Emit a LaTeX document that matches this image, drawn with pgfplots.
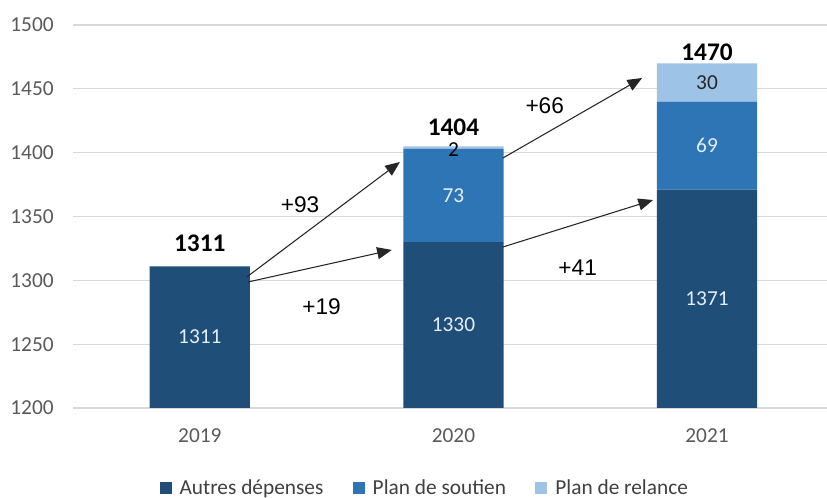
\documentclass[border=0pt]{standalone}
\usepackage{fontspec}
\setmainfont{Carlito}
\newfontfamily\arial{Liberation Sans}
\usepackage{pgfplots}
\pgfplotsset{compat=1.18}
\usetikzlibrary{arrows.meta}

\definecolor{autres}{HTML}{1F4E79}
\definecolor{soutien}{HTML}{2E75B6}
\definecolor{relance}{HTML}{9DC3E6}
\definecolor{gridgray}{HTML}{D9D9D9}
\definecolor{tickgray}{HTML}{595959}
\definecolor{leggray}{HTML}{404040}
\definecolor{inlabel}{HTML}{E4EEF8}

\tikzset{
  inl/.style={font=\fontsize{16}{19}\selectfont},
  tot/.style={font=\fontsize{19}{22}\selectfont\bfseries},
  dlt/.style={font=\arial\fontsize{17}{20}\selectfont},
  evo/.style={black!85, line width=0.8pt, -{Triangle[length=11pt,width=9pt]}},
}

\begin{document}
\begin{tikzpicture}
\useasboundingbox (0,0) rectangle (620.25pt,373.5pt);
\begin{axis}[
    at={(54.75pt,67.5pt)}, anchor=south west,
    scale only axis, width=565.5pt, height=287.25pt,
    ybar stacked, bar width=0.395,
    xmin=-0.5, xmax=2.473, ymin=1200, ymax=1500,
    ytick={1200,1250,...,1500},
    xtick={0,1,2}, xticklabels={2019,2020,2021},
    ymajorgrids, grid style={draw=gridgray, line width=0.9pt},
    axis line style={draw=none}, major tick length=0pt,
    tick label style={font=\fontsize{16}{19}\selectfont, text=tickgray},
    /pgf/number format/assume math mode=true,
    /pgf/number format/1000 sep={},
    yticklabel style={xshift=-11pt},
    xticklabel style={yshift=-12pt},
    legend style={at={(0.467,-0.209)}, anchor=center, draw=none,
        legend columns=3, font=\fontsize{16}{19}\selectfont, text=leggray,
        /tikz/every even column/.append style={column sep=20pt}},
    legend image code/.code={\fill[#1] (0pt,-4.5pt) rectangle (9pt,4.5pt); \path (13pt,0pt);},
]
\addplot[fill=autres, draw=none] coordinates {(0,1311) (1,1330) (2,1371)};
\addplot[fill=soutien, draw=none] coordinates {(0,0) (1,73) (2,69)};
\addplot[fill=relance, draw=none] coordinates {(0,0) (1,2) (2,30)};
\legend{Autres dépenses, Plan de soutien, Plan de relance}

% anchor points for the annotations, drawn on top after the axis
\coordinate (l1) at (axis cs:0,1255.5);
\coordinate (l2) at (axis cs:1,1265);
\coordinate (l3) at (axis cs:1,1366.5);
\coordinate (l4) at (axis cs:1,1402.5);
\coordinate (l5) at (axis cs:2,1285.5);
\coordinate (l6) at (axis cs:2,1405.5);
\coordinate (l7) at (axis cs:2,1455);
\coordinate (t1) at (axis cs:0,1329);
\coordinate (t2) at (axis cs:1,1420);
\coordinate (t3) at (axis cs:2,1479);
\coordinate (a1) at (axis cs:0.185,1302.6);
\coordinate (b1) at (axis cs:0.789,1392.7);
\coordinate (a2) at (axis cs:0.19,1298.7);
\coordinate (b2) at (axis cs:0.757,1323.8);
\coordinate (a3) at (axis cs:1.195,1395.8);
\coordinate (b3) at (axis cs:1.744,1458.5);
\coordinate (a4) at (axis cs:1.195,1326.1);
\coordinate (b4) at (axis cs:1.787,1362.9);
\coordinate (d1) at (axis cs:0.395,1359);
\coordinate (d2) at (axis cs:0.48,1279);
\coordinate (d3) at (axis cs:1.36,1437);
\coordinate (d4) at (axis cs:1.49,1310);
\end{axis}

% labels inside bars
\node[inl, text=inlabel] at (l1) {1311};
\node[inl, text=inlabel] at (l2) {1330};
\node[inl, text=inlabel] at (l3) {73};
\node[inl, text=black] at (l4) {2};
\node[inl, text=inlabel] at (l5) {1371};
\node[inl, text=inlabel] at (l6) {69};
\node[inl, text=black!85] at (l7) {30};

% totals
\node[tot] at (t1) {1311};
\node[tot] at (t2) {1404};
\node[tot] at (t3) {1470};

% evolution arrows
\draw[evo] (a1) -- (b1);
\draw[evo] (a2) -- (b2);
\draw[evo] (a3) -- (b3);
\draw[evo] (a4) -- (b4);
\node[dlt] at (d1) {+93};
\node[dlt] at (d2) {+19};
\node[dlt] at (d3) {+66};
\node[dlt] at (d4) {+41};
\end{tikzpicture}
\end{document}
